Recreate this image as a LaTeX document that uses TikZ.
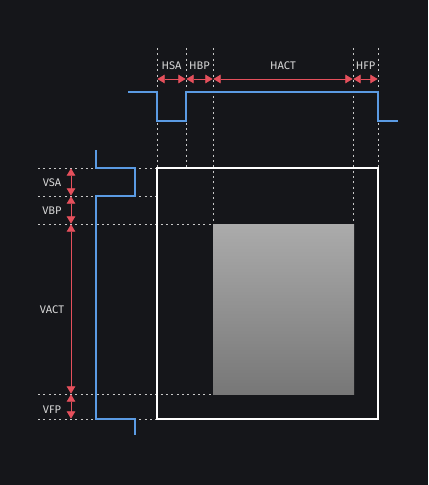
\documentclass[tikz,border=0pt]{standalone}
\usepackage{fontspec}
\setmainfont{Fira Sans}
\usetikzlibrary{arrows.meta}
\definecolor{bg}{HTML}{15161A}
\definecolor{sig}{HTML}{5B9BE3}
\definecolor{dim}{HTML}{E5505C}
\definecolor{txt}{HTML}{D8D8D8}
\definecolor{dots}{HTML}{C8C8C8}
\definecolor{gtop}{HTML}{ABABAB}
\definecolor{gbot}{HTML}{777777}
\tikzset{
  guide/.style={dots, line width=0.75pt, dash pattern=on 1.5pt off 2.5pt},
  dimarrow/.style={dim, line width=0.7pt, {Triangle[length=5.5pt,width=6.5pt]}-{Triangle[length=5.5pt,width=6.5pt]}, shorten <=0.3pt, shorten >=0.3pt},
  lbl/.style={txt, font=\fontsize{8.3pt}{10pt}\selectfont, inner sep=0pt},
  signal/.style={sig, line width=0.8pt},
}
\begin{document}
\begin{tikzpicture}[x=0.75pt,y=-0.75pt]
\fill[bg] (0,0) rectangle (428,485);
\useasboundingbox (0,0) rectangle (428,485);
% vertical guides
\draw[guide] (157,48) -- (157,168);
\draw[guide] (186,48) -- (186,168);
\draw[guide] (213,48) -- (213,224);
\draw[guide] (353,48) -- (353,224);
\draw[guide] (378,48) -- (378,168);
% horizontal guides
\draw[guide] (38,168) -- (157,168);
\draw[guide] (38,196) -- (157,196);
\draw[guide] (38,224) -- (213,224);
\draw[guide] (38,394) -- (213,394);
\draw[guide] (38,419) -- (157,419);
% frame and active area
\shade[top color=gtop, bottom color=gbot] (213,224) rectangle (354,394);
\draw[white, line width=0.8pt] (157,168) rectangle (378,419);
% hsync
\draw[signal] (128,92) -- (157,92) -- (157,121) -- (186,121) -- (186,92) -- (378,92) -- (378,121) -- (398,121);
% vsync
\draw[signal] (96,150) -- (96,168) -- (135,168) -- (135,196) -- (96,196) -- (96,419) -- (135,419) -- (135,435);
% horizontal dims
\coordinate (a0) at (157,79); \coordinate (a1) at (186,79); \coordinate (a2) at (213,79); \coordinate (a3) at (353,79); \coordinate (a4) at (378,79);
\draw[dimarrow] (a0) -- (a1);
\draw[dimarrow] (a1) -- (a2);
\draw[dimarrow] (a2) -- (a3);
\draw[dimarrow] (a3) -- (a4);
\node[lbl] (hsa) at (171.5,66) {HSA};
\node[lbl] (hbp) at (199.5,66) {HBP};
\node[lbl] (hact) at (283,66) {HACT};
\node[lbl] (hfp) at (365.5,66) {HFP};
% vertical dims
\coordinate (b0) at (71,168); \coordinate (b1) at (71,196); \coordinate (b2) at (71,224); \coordinate (b3) at (71,394); \coordinate (b4) at (71,419);
\draw[dimarrow] (b0) -- (b1);
\draw[dimarrow] (b1) -- (b2);
\draw[dimarrow] (b2) -- (b3);
\draw[dimarrow] (b3) -- (b4);
\node[lbl] (vsa) at (52,183) {VSA};
\node[lbl] (vbp) at (52,211) {VBP};
\node[lbl] (vact) at (52,310) {VACT};
\node[lbl] (vfp) at (52,410) {VFP};
\end{tikzpicture}
\end{document}
